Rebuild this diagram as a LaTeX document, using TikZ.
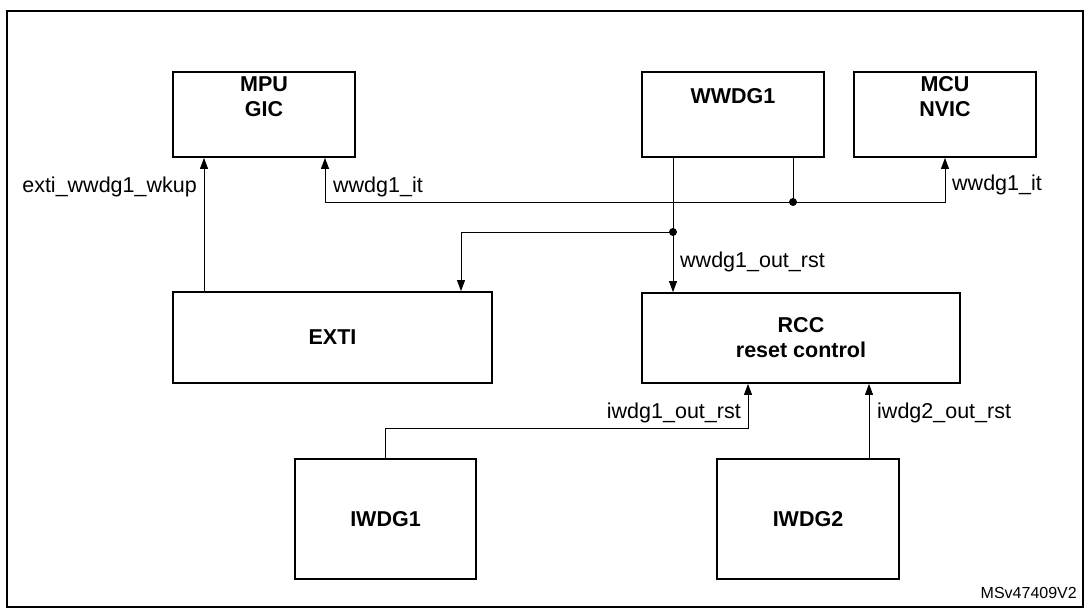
\documentclass[tikz,border=0pt]{standalone}
\usepackage{fontspec}
\setmainfont{Liberation Sans}
\usetikzlibrary{arrows.meta}

\begin{document}
\begin{tikzpicture}[x=1pt, y=-1pt, >={Triangle[length=11pt,width=8pt]}, every node/.style={font=\fontsize{21.5}{25}\selectfont}]
    \tikzstyle{box}=[draw, line width=1.8pt, inner sep=0pt]
    \tikzstyle{title}=[align=center, inner sep=0pt, font=\fontsize{21.5}{25}\selectfont\bfseries]
    \tikzstyle{wire}=[line width=0.9pt]
    \tikzstyle{sig}=[inner sep=0pt]
    \useasboundingbox (0,0) rectangle (1088,610);
    \draw[line width=2.2pt] (7,11) rectangle (1083,607);
    % top row
    \node[box, minimum width=182pt, minimum height=85pt] (mpu) at (264,114.5) {};
    \node[title] (mpu-t) at (264,97) {MPU\\GIC};
    \node[box, minimum width=182pt, minimum height=85pt] (wwdg) at (733,114.5) {};
    \node[title] (wwdg-t) at (733,96) {WWDG1};
    \node[box, minimum width=182pt, minimum height=85pt] (mcu) at (945,114.5) {};
    \node[title] (mcu-t) at (945,97) {MCU\\NVIC};
    % middle row
    \node[box, title, minimum width=319pt, minimum height=91pt] (exti) at (332.5,337.5) {EXTI};
    \node[box, title, minimum width=318pt, minimum height=90pt] (rcc) at (801,338) {RCC\\reset control};
    % bottom row
    \node[box, title, minimum width=181pt, minimum height=120pt] (iwdg1) at (385.5,519) {IWDG1};
    \node[box, title, minimum width=182pt, minimum height=120pt] (iwdg2) at (808,519) {IWDG2};
    % junctions
    \coordinate (j1) at (673,232);
    \coordinate (j2) at (793,202);
    \coordinate (k1) at (748,428);
    \draw[wire, ->] (wwdg.south -| j1) -- (rcc.north -| j1);
    \draw[wire] (wwdg.south -| j2) -- (j2);
    \draw[wire, ->] (j1) -| ([xshift=128.5pt]exti.north);
    \draw[wire, ->] (j2) -| (mcu.south);
    \draw[wire, ->] (j2) -| ([xshift=61pt]mpu.south);
    \draw[wire, ->] ([xshift=-128.5pt]exti.north) -- ([xshift=-60pt]mpu.south);
    \draw[wire, ->] (iwdg1.north) |- (k1) -- (rcc.south -| k1);
    \draw[wire, ->] ([xshift=61pt]iwdg2.north) -- ([xshift=68pt]rcc.south);
    \fill (j1) circle (4pt);
    \fill (j2) circle (4pt);
    % signal names
    \node[sig, anchor=east] (l-wkup) at (197,187) {exti\_wwdg1\_wkup};
    \node[sig, anchor=west] (l-it1) at (333,187) {wwdg1\_it};
    \node[sig, anchor=west] (l-it2) at (952,185) {wwdg1\_it};
    \node[sig, anchor=west] (l-wrst) at (680,262) {wwdg1\_out\_rst};
    \node[sig, anchor=east] (l-irst1) at (741,413) {iwdg1\_out\_rst};
    \node[sig, anchor=west] (l-irst2) at (877,413) {iwdg2\_out\_rst};
    \node[sig, anchor=east, font=\fontsize{16}{19}\selectfont] (ref) at (1077,593) {MSv47409V2};
\end{tikzpicture}
\end{document}
